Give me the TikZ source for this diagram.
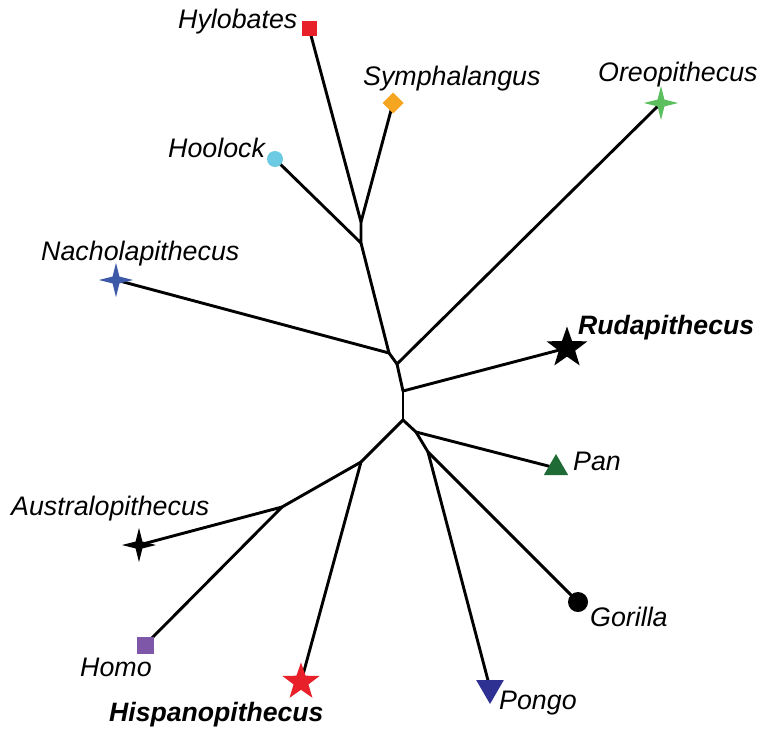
\documentclass[tikz,border=0pt]{standalone}
\usepackage{fontspec}
\setmainfont{Liberation Sans}
\usetikzlibrary{shapes.geometric}
\definecolor{cred}{HTML}{E8202A}
\definecolor{corange}{HTML}{F5A51F}
\definecolor{cgreen}{HTML}{5BBF5E}
\definecolor{clblue}{HTML}{6CCBE2}
\definecolor{cblue}{HTML}{3C5AA8}
\definecolor{cdgreen}{HTML}{1E6B35}
\definecolor{cpurple}{HTML}{7E57A8}
\definecolor{cnavy}{HTML}{2E3192}
\tikzset{
  branch/.style={line width=2.9pt, line cap=round, line join=round},
  lab/.style={anchor=base west, inner sep=0pt, font=\fontsize{26.8}{30}\selectfont\itshape},
  blab/.style={lab, font=\fontsize{26.6}{30}\selectfont\bfseries\itshape},
  mk/.style={inner sep=0pt, outer sep=0pt, draw=none},
  sq/.style={mk, rectangle, minimum size=#1},
  dia/.style={mk, diamond, minimum size=#1},
  dot/.style={mk, circle, minimum size=#1},
  fourstar/.style={mk, star, star points=4, star point ratio=3.5, minimum size=#1},
  fivestar/.style={mk, star, star points=5, star point ratio=2.5, minimum size=#1},
  tri/.style={mk, regular polygon, regular polygon sides=3, minimum size=#1},
}
\begin{document}
\begin{tikzpicture}[x=1pt,y=-1pt]
\useasboundingbox (0,0) rectangle (779,734);
% internal nodes
\coordinate (n1) at (361,222);
\coordinate (n2) at (361,243);
\coordinate (n3) at (389,353);
\coordinate (n4) at (397,364);
\coordinate (n5) at (403,391);
\coordinate (n6) at (403,420);
\coordinate (n7) at (361,462);
\coordinate (n8) at (282,507);
\coordinate (n9) at (416,432);
\coordinate (n10) at (428,452);
% leaf positions
\coordinate (pHyl) at (309,28);
\coordinate (pSym) at (393,103);
\coordinate (pOre) at (661,103);
\coordinate (pHoo) at (275,159);
\coordinate (pNac) at (116,280);
\coordinate (pRud) at (567,348);
\coordinate (pPan) at (556,468);
\coordinate (pAus) at (139,545);
\coordinate (pGor) at (578,602);
\coordinate (pHom) at (145,645);
\coordinate (pHis) at (301,682);
\coordinate (pPon) at (490,688);
% branches
\draw[branch] (pHyl) -- (n1) -- (pSym);
\draw[branch] (n1) -- (n2) -- (pHoo);
\draw[branch] (n2) -- (n3) -- (pNac);
\draw[branch] (n3) -- (n4) -- (pOre);
\draw[branch] (n4) -- (n5) -- (pRud);
\draw[branch] (n5) -- (n6);
\draw[branch] (n6) -- (n7) -- (pHis);
\draw[branch] (n7) -- (n8) -- (pAus);
\draw[branch] (n8) -- (pHom);
\draw[branch] (n6) -- (n9) -- (pPan);
\draw[branch] (n9) -- (n10) -- (pGor);
\draw[branch] (n10) -- (pPon);
% markers
\node[sq=15pt, fill=cred] (mHyl) at (pHyl) {};
\node[dia=21pt, fill=corange] (mSym) at (pSym) {};
\node[fourstar=34pt, fill=cgreen] (mOre) at (pOre) {};
\node[dot=16pt, fill=clblue] (mHoo) at (pHoo) {};
\node[fourstar=34pt, fill=cblue] (mNac) at (pNac) {};
\node[fivestar=43pt, fill=black] (mRud) at (pRud) {};
\node[tri=28pt, fill=cdgreen] (mPan) at (pPan) {};
\node[fourstar=34pt, fill=black] (mAus) at (pAus) {};
\node[dot=20pt, fill=black] (mGor) at (pGor) {};
\node[sq=17pt, fill=cpurple] (mHom) at (pHom) {};
\node[fivestar=39pt, fill=cred] (mHis) at (pHis) {};
\node[tri=32pt, shape border rotate=180, fill=cnavy] (mPon) at (pPon) {};
% labels
\node[lab] (lHyl) at (178,28) {Hylobates};
\node[lab] (lSym) at (363,85) {Symphalangus};
\node[lab] (lOre) at (598,81) {Oreopithecus};
\node[lab] (lHoo) at (168,157) {Hoolock};
\node[lab] (lNac) at (41,260) {Nacholapithecus};
\node[blab] (lRud) at (578,334) {Rudapithecus};
\node[lab] (lPan) at (573,470) {Pan};
\node[lab] (lAus) at (11,515) {Australopithecus};
\node[lab] (lGor) at (590,626) {Gorilla};
\node[lab] (lHom) at (80,676) {Homo};
\node[blab] (lHis) at (109,721) {Hispanopithecus};
\node[lab] (lPon) at (499,709) {Pongo};
\end{tikzpicture}
\end{document}
